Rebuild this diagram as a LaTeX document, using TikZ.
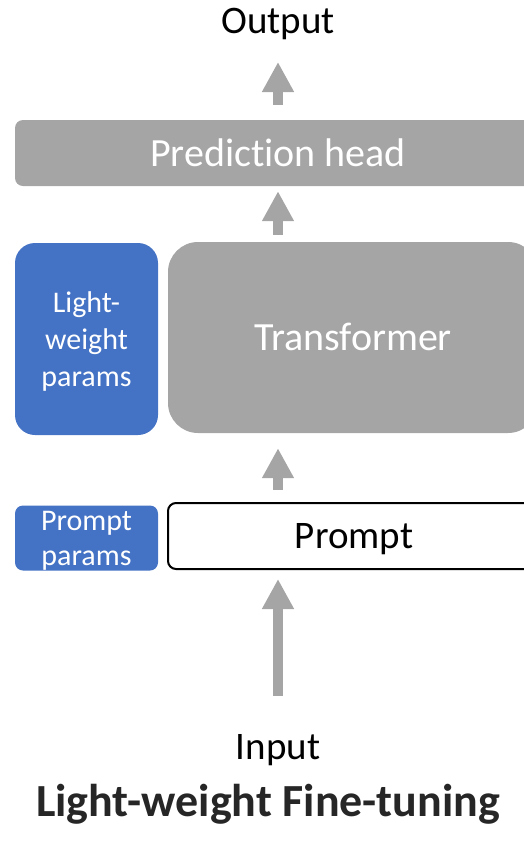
\documentclass[tikz,border=0pt]{standalone}
\usepackage{fontspec}
\setmainfont{Carlito}[Ligatures=NoCommon]
\usetikzlibrary{arrows.meta}
\usetikzlibrary{positioning}
\definecolor{boxgray}{HTML}{A5A5A5}
\definecolor{parblue}{HTML}{4472C4}
\definecolor{titlegray}{HTML}{262626}

\begin{document}
\begin{tikzpicture}[x=1pt,y=-1pt,
	graybox/.style={fill=boxgray,text=white,inner sep=0pt,font=\fontsize{40}{48}\selectfont,text height=26pt,text depth=0pt},
	bluebox/.style={fill=parblue,text=white,inner sep=0pt,align=center,font=\fontsize{30}{37}\selectfont,text depth=0pt},
	uparrow/.style={draw=boxgray,line width=10pt,-{Triangle[width=30pt,length=30pt]}},
	iotext/.style={font=\fontsize{39}{47}\selectfont,anchor=base}]
	\useasboundingbox (0,0) rectangle (524,868);
	\clip (0,0) rectangle (524,868);
	\node[iotext] (output) at (278,33) {Output};
	\node[graybox,rounded corners=8pt,minimum width=526pt,minimum height=66pt] (pred) at (278,153) {Prediction head};
	\node[graybox,rounded corners=30pt,minimum width=370pt,minimum height=191pt] (trans) at (353,337.5) {Transformer};
	\node[bluebox,rounded corners=20pt,minimum width=143pt,minimum height=192pt] (lwparams) at (86.5,339) {Light-\\weight\\params};
	\node[bluebox,font=\fontsize{30}{35}\selectfont,rounded corners=8pt,minimum width=143pt,minimum height=65pt] (ppparams) at (86.5,538) {Prompt\\params};
	\node[draw=black,line width=2pt,fill=white,rounded corners=8pt,inner sep=0pt,minimum width=372pt,minimum height=66pt,
		font=\fontsize{39}{47}\selectfont,text height=25pt,text depth=0pt] (prompt) at (354,536) {Prompt};
	\node[iotext] (input) at (278,759) {Input};
	\node[font=\bfseries\fontsize{46}{55}\selectfont,text=titlegray,anchor=base] (title) at (268,816) {Light-weight Fine-tuning};
	\draw[uparrow,shorten <=15pt,shorten >=29pt] (pred.north) -- (pred.north |- output.base);
	\draw[uparrow,shorten <=7pt,shorten >=5pt] (pred.south |- trans.north) -- (pred.south);
	\draw[uparrow,shorten <=12pt,shorten >=15pt] (pred.south |- prompt.north) -- (pred.south |- trans.south);
	\draw[uparrow,shorten <=63pt,shorten >=9pt] (input.base) -- (input.base |- prompt.south);
\end{tikzpicture}
\end{document}
